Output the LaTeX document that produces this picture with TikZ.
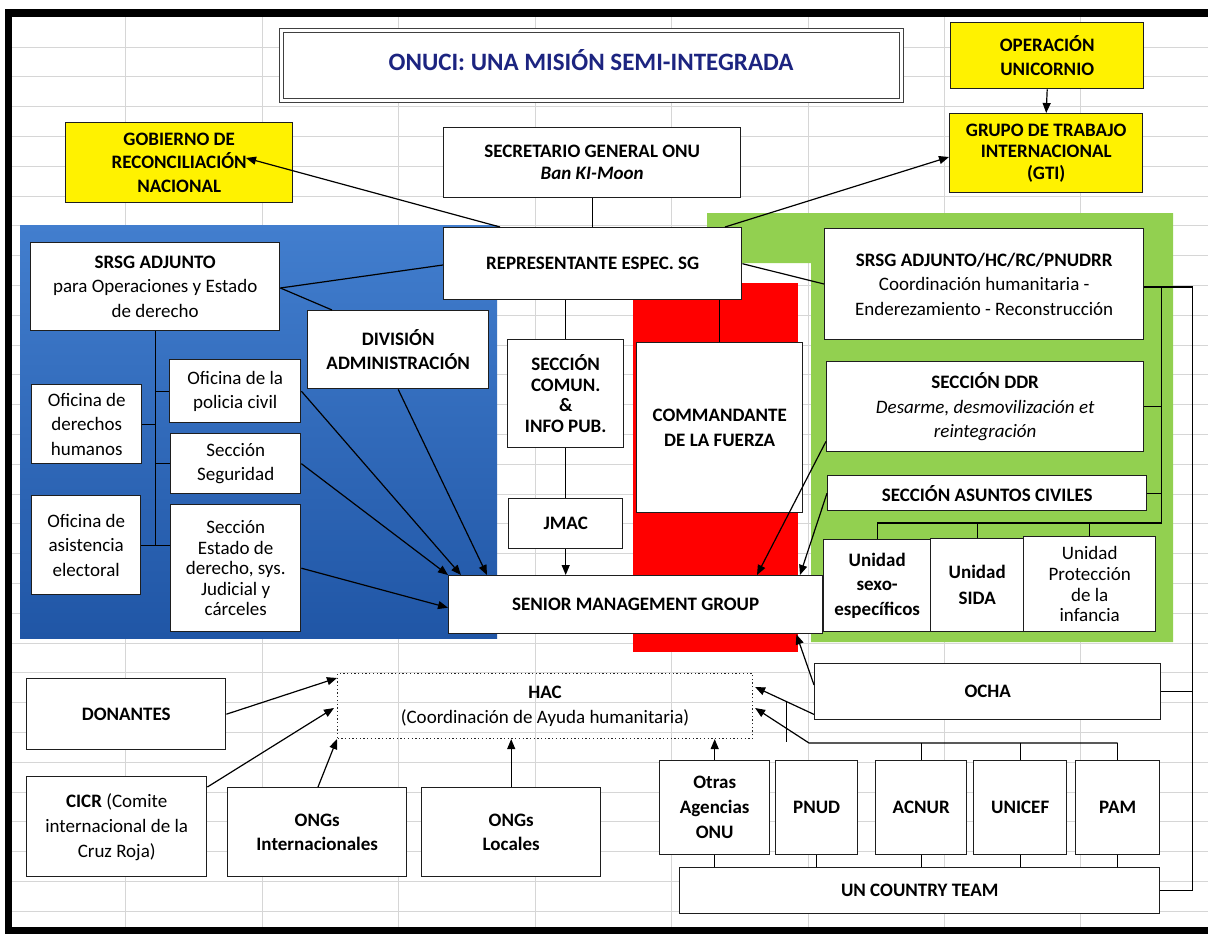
\documentclass[tikz,border=0pt]{standalone}
\usepackage{fontspec}
\setmainfont{Carlito}
\usetikzlibrary{arrows.meta,calc}
\definecolor{xlgreen}{RGB}{146,208,80}
\definecolor{xlgrid}{RGB}{214,214,214}
\definecolor{titleblue}{RGB}{28,36,128}
\definecolor{bluetop}{RGB}{66,126,206}
\definecolor{bluebot}{RGB}{32,86,166}
\definecolor{boxline}{RGB}{30,30,30}
\newcommand\fsz[1]{\fontsize{19}{#1}\selectfont}
\newcommand\bx[7]{\node[#6,anchor=north west,minimum width=#4pt,minimum height=#5pt] (#1) at (#2,#3) {#7};}
\tikzset{
 box/.style={draw=boxline, line width=1.4pt, fill=white, inner sep=0pt, align=center, text=black, font=\fsz{24.5}},
 bbox/.style={box, font=\fsz{24.5}\bfseries},
 ybox/.style={bbox, fill=yellow},
 conn/.style={draw=black, line width=1.2pt},
 arr/.style={conn, -{Triangle[length=10pt,width=8pt]}},
 gridline/.style={draw=xlgrid, line width=0.8pt},
}
\begin{document}
\begin{tikzpicture}[x=1pt,y=-1pt]
\useasboundingbox (0,0) rectangle (1208,934);
\fill[white] (0,0) rectangle (1208,934);
% spreadsheet grid
\foreach \x in {125,262,398,535,671,808,944,1080} \draw[gridline] (\x,17) -- (\x,927);
\foreach \k in {0,...,29} {\pgfmathsetmacro\yy{47+29.8*\k}\draw[gridline] (12,\yy) -- (1208,\yy);}
% coloured zones
\shade[top color=bluetop, bottom color=bluebot] (20,225) rectangle (497,638);
\fill[xlgreen] (707,213) -- (1173,213) -- (1173,642) -- (811,642) -- (811,263) -- (707,263) -- cycle;
\fill[red] (633,283) rectangle (798,652);
% frame
\fill[black] (5,9) rectangle (1208,17);
\fill[black] (5,9) rectangle (12,934);
\fill[black] (5,927) rectangle (1208,934);
% title
\node[draw=black!75, double=white, double distance=2.5pt, line width=1.4pt, fill=white, inner sep=0pt, anchor=north west, minimum width=620pt, minimum height=70pt] (title) at (281,30) {};
\node[font=\fontsize{25}{30}\selectfont\bfseries, text=titleblue, inner sep=0pt] (titletxt) at (591,60) {ONUCI: UNA MISIÓN SEMI-INTEGRADA};
% top boxes
\bx{unicornio}{950}{22}{193}{66}{ybox}{OPERACIÓN\\UNICORNIO}
\bx{gti}{949}{113}{193}{79}{ybox,font=\fsz{21.5}\bfseries}{GRUPO DE TRABAJO\\INTERNACIONAL\\(GTI)}
\bx{gobierno}{65}{122}{227}{80}{ybox,font=\fsz{23.5}\bfseries}{GOBIERNO DE\\RECONCILIACIÓN\\NACIONAL}
\bx{sg}{443}{127}{297}{70}{bbox,font=\fsz{22}\bfseries}{SECRETARIO GENERAL ONU\\\textit{Ban KI-Moon}}
\bx{rep}{443}{227}{298}{72}{bbox}{REPRESENTANTE ESPEC. SG}
% blue zone
\bx{srsgL}{30}{242}{249}{88}{box}{\textbf{SRSG ADJUNTO}\\para Operaciones y Estado\\de derecho}
\bx{division}{307}{310}{181}{78}{bbox}{DIVISIÓN\\ADMINISTRACIÓN}
\bx{policia}{169}{359}{131}{63}{box}{Oficina de la\\policia civil}
\bx{derechos}{31}{384}{110}{79}{box}{Oficina de\\derechos\\humanos}
\bx{seguridad}{170}{433}{130}{60}{box}{Sección\\Seguridad}
\bx{electoral}{31}{495}{109}{99}{box}{Oficina de\\asistencia\\electoral}
\bx{estado}{170}{504}{130}{127}{box,font=\fsz{20.5}}{Sección\\Estado de\\derecho, sys.\\Judicial y\\cárceles}
% centre
\bx{comun}{507}{339}{116}{108}{bbox,font=\fsz{20.7}\bfseries}{SECCIÓN\\COMUN.\\\&\\INFO PUB.}
\bx{jmac}{508}{498}{114}{50}{bbox}{JMAC}
\bx{cmd}{636}{342}{166}{170}{bbox}{COMMANDANTE\\DE LA FUERZA}
\bx{smg}{448}{575}{374}{58}{bbox}{SENIOR MANAGEMENT GROUP}
% green zone
\bx{srsgR}{824}{228}{319}{111}{box}{\textbf{SRSG ADJUNTO/HC/RC/PNUDRR}\\Coordinación humanitaria -\\Enderezamiento - Reconstrucción}
\bx{ddr}{826}{361}{317}{90}{box}{\textbf{SECCIÓN DDR}\\\textit{Desarme, desmovilización et}\\\textit{reintegración}}
\bx{civiles}{827}{475}{319}{35}{bbox}{SECCIÓN ASUNTOS CIVILES}
\bx{sexo}{823}{539}{107}{92}{bbox}{Unidad\\sexo-\\específicos}
\bx{sida}{930}{538}{93}{93}{bbox,font=\fsz{26}\bfseries}{Unidad\\SIDA}
\bx{proteccion}{1023}{536}{132}{95}{box,font=\fsz{20.7}}{Unidad\\Protección\\de la\\infancia}
% bottom
\node[draw=black!85, line width=1.1pt, dash pattern=on 1.3pt off 2.4pt, inner sep=0pt, align=center, font=\fsz{25}, anchor=north west, minimum width=415pt, minimum height=65pt] (hac) at (337,673) {\textbf{HAC}\\(Coordinación de Ayuda humanitaria)};
\bx{donantes}{26}{678}{199}{71}{bbox}{DONANTES}
\bx{cicr}{26}{776}{180}{100}{box,font=\fsz{25}}{\textbf{CICR} (Comite\\internacional de la\\Cruz Roja)}
\bx{ongint}{227}{787}{179}{89}{bbox}{ONGs\\Internacionales}
\bx{ongloc}{421}{787}{179}{89}{bbox}{ONGs\\Locales}
\bx{ocha}{814}{663}{346}{56}{bbox}{OCHA}
\bx{otras}{659}{760}{110}{94}{bbox,font=\fsz{25}\bfseries}{Otras\\Agencias\\ONU}
\bx{pnud}{775}{760}{82}{94}{bbox}{PNUD}
\bx{acnur}{875}{760}{91}{94}{bbox}{ACNUR}
\bx{unicef}{973}{760}{93}{94}{bbox}{UNICEF}
\bx{pam}{1075}{760}{84}{94}{bbox}{PAM}
\bx{unct}{679}{867}{480}{46}{bbox}{UN COUNTRY TEAM}
% connectors: top
\draw[arr] (unicornio.south) -- (gti.north);
\draw[arr] ($(rep.north west)+(57,0)$) -- ($(gobierno.north west)+(181,36)$);
\draw[arr] ($(rep.north west)+(282,0)$) -- ($(gti.north west)+(0,44)$);
\draw[conn] (sg.south) -- (sg.south |- rep.north);
% blue zone
\coordinate (srsgLr) at ($(srsgL.north east)+(0,46)$);
\draw[conn] (srsgLr) -- ($(rep.north west)+(0,38)$);
\draw[conn] (srsgLr) -- ($(division.north west)+(25,0)$);
\draw[conn] (srsgL.south) -- (srsgL.south |- electoral.east);
\draw[conn] (srsgL.south |- policia.west) -- (policia.west);
\draw[conn] (derechos.east) -- (srsgL.south |- derechos.east);
\draw[conn] (srsgL.south |- seguridad.west) -- (seguridad.west);
\draw[conn] (electoral.east) -- (estado.west |- electoral.east);
\draw[arr] (policia.east) -- ($(smg.north west)+(13,0)$);
\draw[arr] (seguridad.east) -- (smg.north west);
\draw[arr] (estado.east) -- ($(smg.west)+(0,3)$);
\draw[arr] (division.south) -- ($(smg.north west)+(39,0)$);
% centre
\draw[conn] (comun.north |- rep.south) -- (comun.north);
\draw[conn] (comun.south) -- (jmac.north);
\draw[arr] (jmac.south) -- (jmac.south |- smg.north);
\draw[conn] (cmd.north |- rep.south) -- (cmd.north);
% green zone
\draw[conn] (rep.east) -- ($(srsgR.north west)+(0,56)$);
\draw[arr] ($(ddr.south west)+(0,-11)$) -- ($(smg.north west)+(309,0)$);
\draw[arr] (civiles.west) -- ($(smg.north west)+(352,0)$);
\coordinate (gtop) at ($(srsgR.north east)+(17,59)$);
\coordinate (gbot) at ($(srsgR.north east)+(17,295)$);
\draw[conn] ($(srsgR.north east)+(0,59)$) -| ($(unct.east)+(32,0)$) -- (unct.east);
\draw[conn] (gtop) -- (gbot) -- (sexo.north |- gbot) -- (sexo.north);
\draw[conn] (sida.north |- gbot) -- (sida.north);
\draw[conn] (proteccion.north |- gbot) -- (proteccion.north);
\draw[conn] (ddr.east) -- (ddr.east -| gtop);
\draw[conn] (civiles.east) -- (civiles.east -| gtop);
\draw[conn] (ocha.east) -- ++(31,0);
% bottom
\draw[arr] ($(ocha.north west)+(0,22)$) -- ($(smg.south east)+(-27,0)$);
\draw[arr] ($(ocha.south west)+(0,-6)$) -- ($(hac.north east)+(2,14)$);
\coordinate (busR) at ($(pam.north)+(0,-17)$);
\coordinate (busL) at (809,743);
\draw[arr] (busR) -- (busL) -- ($(hac.north east)+(2,35)$);
\draw[conn] (acnur.north) -- (acnur.north |- busR);
\draw[conn] (unicef.north) -- (unicef.north |- busR);
\draw[conn] (pam.north) -- (busR);
\coordinate (strayTop) at (786,701);
\coordinate (strayBot) at (786,742);
\draw[conn, line width=1pt] (strayTop) -- (strayBot);
\draw[arr] (otras.north) -- (otras.north |- hac.south);
\foreach \n in {otras,pnud,acnur,unicef,pam} \draw[conn] (\n.south) -- (\n.south |- unct.north);
\draw[arr] (donantes.east) -- ($(hac.north west)+(0,5)$);
\draw[arr] ($(cicr.north east)+(0,11)$) -- ($(hac.north west)+(-3,35)$);
\draw[arr] ($(ongint.north west)+(91,0)$) -- (hac.south west);
\draw[arr] (ongloc.north) -- (ongloc.north |- hac.south);
\end{tikzpicture}
\end{document}
